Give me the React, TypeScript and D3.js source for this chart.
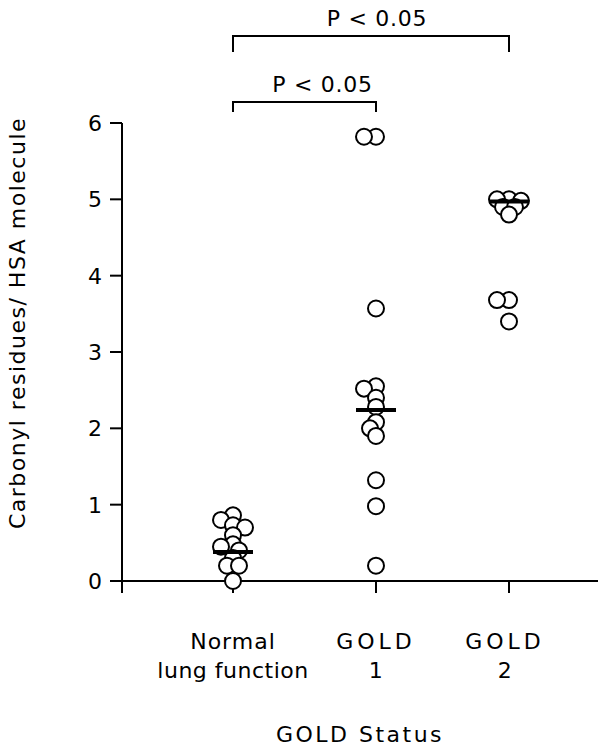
import React from "react";
import * as d3 from "d3";

const categories = ["Normal", "GOLD1", "GOLD2"];
const categoryLabels = [["Normal", "lung function"], ["GOLD", "1"], ["GOLD", "2"]];
const normalValues = [0.86, 0.8, 0.73, 0.7, 0.6, 0.48, 0.45, 0.4, 0.3, 0.2, 0.2, 0.0];
const gold1Values = [5.82, 5.82, 3.57, 2.55, 2.52, 2.4, 2.28, 2.08, 2.0, 1.9, 1.32, 0.98, 0.2];
const gold2Values = [5.0, 5.0, 4.98, 4.9, 4.9, 4.8, 3.68, 3.68, 3.4];
const medians = [0.38, 2.24, 4.97];
const yTicks = [0, 1, 2, 3, 4, 5, 6];
const comparisons = [
  { from: 0, to: 1, label: "P < 0.05" },
  { from: 0, to: 2, label: "P < 0.05" },
];

const FONT = "'DejaVu Sans', sans-serif";

function beeswarm(values: number[], y: (v: number) => number, step: number, minDist: number) {
  const placed: { x: number; y: number; v: number }[] = [];
  const sorted = [...values].sort((a, b) => b - a);
  for (const v of sorted) {
    const py = y(v);
    let k = 0;
    for (;;) {
      const off = k === 0 ? 0 : (k % 2 === 1 ? -1 : 1) * Math.ceil(k / 2) * step;
      const ok = placed.every((p) => Math.hypot(p.x - off, p.y - py) >= minDist);
      if (ok) {
        placed.push({ x: off, y: py, v });
        break;
      }
      k++;
    }
  }
  return placed;
}

export default function App() {
  const width = 600;
  const height = 749;
  const y = d3.scaleLinear().domain([0, 6]).range([581, 123]);
  const x = d3.scaleOrdinal<string, number>().domain(categories).range([233, 376, 509]);
  const groups = [normalValues, gold1Values, gold2Values];
  const r = 8;

  const axisLeft = 122;
  const axisBottom = y(0);

  return (
    <svg width={width} height={height} style={{ position: "absolute", left: 0, top: 0 }}>
      <rect width={width} height={height} fill="#fff" />
      {/* y axis */}
      <line x1={axisLeft} x2={axisLeft} y1={y(6)} y2={axisBottom + 12} stroke="#000" strokeWidth={2} />
      {yTicks.map((t) => (
        <g key={t}>
          <line x1={axisLeft - 12} x2={axisLeft} y1={y(t)} y2={y(t)} stroke="#000" strokeWidth={2} />
          <text x={axisLeft - 20} y={y(t)} dy="0.36em" textAnchor="end" fontFamily={FONT} fontSize={22}>
            {t}
          </text>
        </g>
      ))}
      {/* x axis */}
      <line x1={axisLeft - 12} x2={598} y1={axisBottom} y2={axisBottom} stroke="#000" strokeWidth={2} />
      {categories.map((c) => (
        <line key={c} x1={x(c)} x2={x(c)} y1={axisBottom} y2={axisBottom + 12} stroke="#000" strokeWidth={2} />
      ))}
      {/* category labels */}
      {categories.map((c, i) => (
        <g key={"l" + c} fontFamily={FONT} fontSize={22} textAnchor="middle">
          <text x={x(c) - (i === 2 ? 4 : 0)} y={649} letterSpacing={i > 0 ? 4 : 1}>
            {categoryLabels[i][0]}
          </text>
          <text x={x(c) - (i === 2 ? 4 : 0)} y={678} letterSpacing={0.5}>
            {categoryLabels[i][1]}
          </text>
        </g>
      ))}
      <text x={360} y={742} textAnchor="middle" fontFamily={FONT} fontSize={22} letterSpacing={2.5}>
        GOLD Status
      </text>
      {/* y title */}
      <text
        transform={`translate(25,${323}) rotate(-90)`}
        textAnchor="middle"
        fontFamily={FONT}
        fontSize={22}
        letterSpacing={1.5}
      >
        Carbonyl residues/ HSA molecule
      </text>
      {/* points */}
      {groups.map((vals, gi) => {
        const cx = x(categories[gi]);
        const pts = beeswarm(vals, y, 6, 8);
        return (
          <g key={"g" + gi}>
            {pts.map((p, i) => (
              <circle key={i} cx={cx + p.x} cy={p.y} r={r} fill="#fff" stroke="#000" strokeWidth={2} />
            ))}
            <line
              x1={cx - 20}
              x2={cx + 20}
              y1={y(medians[gi])}
              y2={y(medians[gi])}
              stroke="#000"
              strokeWidth={4}
            />
          </g>
        );
      })}
      {/* comparison brackets */}
      {comparisons.map((cmp, i) => {
        const x1 = x(categories[cmp.from]);
        const x2 = x(categories[cmp.to]);
        const by = i === 0 ? 102 : 36;
        const drop = i === 0 ? 10 : 16;
        const mid = (x1 + x2) / 2;
        return (
          <g key={"c" + i}>
            <path
              d={`M${x1},${by + drop}V${by}H${x2}V${by + drop}`}
              fill="none"
              stroke="#000"
              strokeWidth={2}
            />
            <text
              x={mid + (i === 0 ? 18 : 6)}
              y={by - 10}
              textAnchor="middle"
              fontFamily={FONT}
              fontSize={22}
              letterSpacing={0.75}
            >
              {cmp.label}
            </text>
          </g>
        );
      })}
    </svg>
  );
}
